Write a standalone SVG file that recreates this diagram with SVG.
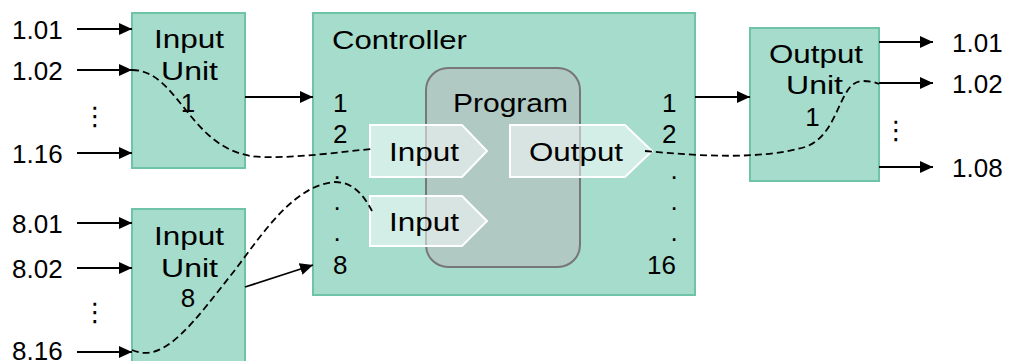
<svg xmlns="http://www.w3.org/2000/svg" width="1011" height="361" viewBox="0 0 1011 361">
<defs>
<style>
.box{fill:#a6dccc;stroke:#6fc4a8;stroke-width:2}
.prog{fill:#b0c9c3;stroke:#777;stroke-width:2}
.tag{fill:#fff;fill-opacity:0.5;stroke:#fff;stroke-width:2}
text{font-family:"Liberation Sans",Arial,sans-serif;font-size:26px;fill:#000}
.m{text-anchor:middle}
.dots{font-family:"DejaVu Sans",sans-serif;text-anchor:middle}
.arr{stroke:#000;stroke-width:1.8;fill:none;marker-end:url(#ah)}
.dash{stroke:#000;stroke-width:1.8;fill:none;stroke-dasharray:7 4}
</style>
<marker id="ah" viewBox="0 0 13 12" refX="13" refY="6" markerWidth="13" markerHeight="12" markerUnits="userSpaceOnUse" orient="auto">
<path d="M0,0 L13,6 L0,12 z" fill="#000"/>
</marker>
</defs>
<rect width="1011" height="361" fill="#fff"/>

<g id="labels-left">
<text x="12" y="38.5">1.01</text>
<text x="12" y="79.5">1.02</text>
<text class="dots" x="95" y="125">⋮</text>
<text x="12" y="163">1.16</text>
<text x="12" y="233">8.01</text>
<text x="12" y="277.5">8.02</text>
<text class="dots" x="95" y="321">⋮</text>
<text x="12" y="360">8.16</text>
</g>

<g id="input-unit-1">
<rect class="box" x="132" y="13" width="113" height="155"/>
<text class="m" x="189" y="48" textLength="70" lengthAdjust="spacingAndGlyphs">Input</text>
<text class="m" x="189.5" y="80" textLength="57" lengthAdjust="spacingAndGlyphs">Unit</text>
<text class="m" x="188" y="112">1</text>
</g>

<g id="input-unit-8">
<rect class="box" x="132" y="209" width="113" height="160"/>
<text class="m" x="189" y="245" textLength="70" lengthAdjust="spacingAndGlyphs">Input</text>
<text class="m" x="189.5" y="277" textLength="57" lengthAdjust="spacingAndGlyphs">Unit</text>
<text class="m" x="188" y="307">8</text>
</g>

<g id="controller">
<rect class="box" x="313" y="13" width="382" height="282"/>
<text x="332" y="49" textLength="135" lengthAdjust="spacingAndGlyphs">Controller</text>
<text x="333" y="112">1</text>
<text x="333" y="143">2</text>
<text x="333.5" y="179">.</text>
<text x="333.5" y="210">.</text>
<text x="333.5" y="241">.</text>
<text x="333" y="274">8</text>
<text x="662" y="112">1</text>
<text x="662" y="143">2</text>
<text x="670.5" y="179">.</text>
<text x="670.5" y="210">.</text>
<text x="670.5" y="241">.</text>
<text x="647" y="274">16</text>
</g>

<g id="program">
<rect class="prog" x="426" y="68" width="154" height="199" rx="22"/>
<text class="m" x="510.5" y="112" textLength="115" lengthAdjust="spacingAndGlyphs">Program</text>
</g>

<g id="input-tag-1">
<polygon class="tag" points="370,125 462,125 487,151 462,177 370,177"/>
<text class="m" x="424" y="161" textLength="70" lengthAdjust="spacingAndGlyphs">Input</text>
</g>

<g id="input-tag-2">
<polygon class="tag" points="370,196 462,196 487,221 462,246 370,246"/>
<text class="m" x="424" y="231" textLength="70" lengthAdjust="spacingAndGlyphs">Input</text>
</g>

<g id="output-tag">
<polygon class="tag" points="510,125 625,125 652,151 625,177 510,177"/>
<text class="m" x="576" y="161" textLength="94" lengthAdjust="spacingAndGlyphs">Output</text>
</g>

<g id="output-unit-1">
<rect class="box" x="750" y="28" width="129" height="153"/>
<text class="m" x="816" y="63" textLength="94" lengthAdjust="spacingAndGlyphs">Output</text>
<text class="m" x="814.5" y="94" textLength="57" lengthAdjust="spacingAndGlyphs">Unit</text>
<text class="m" x="812.5" y="126">1</text>
</g>

<g id="labels-right">
<text x="952" y="52">1.01</text>
<text x="952" y="93">1.02</text>
<text class="dots" x="896" y="139">⋮</text>
<text x="952" y="177">1.08</text>
</g>

<g id="connectors">
<line class="arr" x1="77" y1="29" x2="132" y2="29"/>
<line class="arr" x1="77" y1="70" x2="132" y2="70"/>
<line class="arr" x1="77" y1="153" x2="132" y2="153"/>
<line class="arr" x1="77" y1="223" x2="132" y2="223"/>
<line class="arr" x1="77" y1="268" x2="132" y2="268"/>
<line class="arr" x1="77" y1="352" x2="132" y2="352"/>
<line class="arr" x1="245" y1="97" x2="313" y2="97"/>
<line class="arr" x1="245" y1="287" x2="313" y2="265"/>
<line class="arr" x1="695" y1="97" x2="750" y2="97"/>
<line class="arr" x1="879" y1="42" x2="933" y2="42"/>
<line class="arr" x1="879" y1="83" x2="933" y2="83"/>
<line class="arr" x1="879" y1="167" x2="933" y2="167"/>
<path class="dash" d="M132,70 C180,70 190,155 262,157 C300,158 340,152 371,149"/>
<path class="dash" d="M132,350 C165,365 195,320 235,270 C265,230 295,185 335,182 C355,182 365,198 372,211"/>
<path class="dash" d="M645,151 C700,156 760,160 805,147 C840,135 838,82 862,81 Q872,81 879,84"/>
</g>
</svg>
